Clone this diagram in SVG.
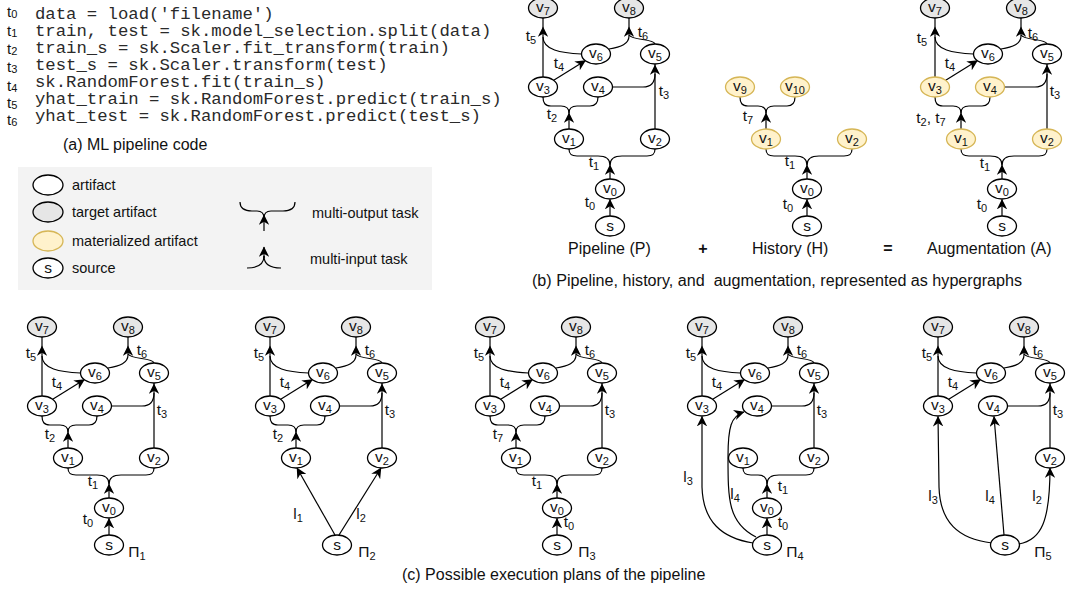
<svg xmlns="http://www.w3.org/2000/svg" width="1083" height="589" viewBox="0 0 1083 589">
<defs>
<marker id="ah" viewBox="0 0 10 10" refX="9.5" refY="5" markerWidth="10.5" markerHeight="10.5" markerUnits="userSpaceOnUse" orient="auto"><path d="M0,0 L10,5 L0,10 L3,5 Z" fill="#000"/></marker>
</defs>
<style>
text{font-family:"Liberation Sans",Arial,sans-serif;fill:#111}
.code{font-family:"Liberation Mono","Courier New",monospace;font-size:17.3px;fill:#2a2a2a}
.n{fill:#fff;stroke:#000;stroke-width:1.3}
.tg{fill:#e6e6e6;stroke:#000;stroke-width:1.3}
.mt{fill:#fff2cc;stroke:#d6b656;stroke-width:1.3}
.e{fill:none;stroke:#000;stroke-width:1.2}
.a{fill:none;stroke:#000;stroke-width:1.2;marker-end:url(#ah)}
.nl{font-size:15.5px;text-anchor:middle}
.el{font-size:15.5px;text-anchor:middle}
.sb{font-size:11px}
.cap{font-size:16px}
.lg{font-size:14.5px}
.cl{font-size:15px}
</style>

<!-- (a) code -->
<g id="code">
<text class="cl" x="7" y="17">t<tspan class="sb" dy="1">0</tspan></text>
<text class="cl" x="7" y="36">t<tspan class="sb" dy="1">1</tspan></text>
<text class="cl" x="7" y="54">t<tspan class="sb" dy="1">2</tspan></text>
<text class="cl" x="7" y="72">t<tspan class="sb" dy="1">3</tspan></text>
<text class="cl" x="7" y="91">t<tspan class="sb" dy="1">4</tspan></text>
<text class="cl" x="7" y="108">t<tspan class="sb" dy="1">5</tspan></text>
<text class="cl" x="7" y="125">t<tspan class="sb" dy="1">6</tspan></text>
<text class="code" x="35" y="19">data = load('filename')</text>
<text class="code" x="35" y="36">train, test = sk.model_selection.split(data)</text>
<text class="code" x="35" y="53">train_s = sk.Scaler.fit_transform(train)</text>
<text class="code" x="35" y="70">test_s = sk.Scaler.transform(test)</text>
<text class="code" x="35" y="87">sk.RandomForest.fit(train_s)</text>
<text class="code" x="35" y="104">yhat_train = sk.RandomForest.predict(train_s)</text>
<text class="code" x="35" y="121">yhat_test = sk.RandomForest.predict(test_s)</text>
<text class="cap" x="63" y="150">(a) ML pipeline code</text>
</g>

<!-- legend -->
<g id="legend">
<rect x="18" y="167" width="414" height="123" fill="#f3f3f3"/>
<g id="lg-artifact"><ellipse class="n" cx="48" cy="185" rx="15" ry="10"/><text class="lg" x="72" y="190">artifact</text></g>
<g id="lg-target"><ellipse class="tg" cx="48" cy="212" rx="15" ry="10"/><text class="lg" x="72" y="217">target artifact</text></g>
<g id="lg-mat"><ellipse class="mt" cx="48" cy="241" rx="15" ry="10"/><text class="lg" x="72" y="246">materialized artifact</text></g>
<g id="lg-source"><ellipse class="n" cx="48" cy="268" rx="15" ry="10"/><text class="nl" x="48" y="273">s</text><text class="lg" x="72" y="273">source</text></g>
<g id="lg-mo">
<path class="e" d="M240,202 C240,209 245,211 252,211 L257,211 C262,211 264,214 264,218"/>
<path class="e" d="M295,202 C295,209 290,211 283,211 L271,211 C266,211 264,214 264,218"/>
<path class="a" d="M264,231 L264,215"/>
<text class="lg" x="312" y="218">multi-output task</text>
</g>
<g id="lg-mi">
<path class="e" d="M247,268 C257,268 264,265 264,256"/>
<path class="e" d="M281,268 C271,268 264,265 264,256"/>
<path class="a" d="M264,258 L264,247"/>
<text class="lg" x="310" y="264">multi-input task</text>
</g>
</g>

<!-- (b) Pipeline P -->
<g id="P" transform="translate(543,8)">
<g id="P-edges">
<path class="a" d="M67,208 L67,191.5"/>
<path class="a" d="M67,171 L67,157"/>
<path class="e" d="M67,157 C67,150 62,148 55,148 L34,148 C28,148 26,146 26,141"/>
<path class="e" d="M67,157 C67,150 72,148 79,148 L104,148 C110,148 112,146 112,141"/>
<path class="a" d="M26,121 L26,105"/>
<path class="e" d="M26,105 C26,100 23,98 18,98 L8,98 C2,98 0,95 0,89"/>
<path class="e" d="M26,105 C26,100 29,98 34,98 L47,98 C53,98 55,95 55,89"/>
<path class="a" d="M112,121 L112,57"/>
<path class="e" d="M112,57 L112,56"/>
<path class="e" d="M69.5,79 L100,79 C108,79 112,75 112,66"/>
<path class="a" d="M10.3,72.6 L42.5,52.6"/>
<path class="a" d="M0,69 L0,19"/>
<path class="e" d="M0,19 L0,10"/>
<path class="e" d="M38.5,46 C18,45 0,42 0,29"/>
<path class="a" d="M86,28 L86,19"/>
<path class="e" d="M86,19 L86,10"/>
<path class="e" d="M66,41 C78,39 86,36 86,28"/>
<path class="e" d="M112,36 C110,30 90,33 86,27"/>
<text class="el" x="-12" y="33">t<tspan class="sb" dy="3">5</tspan></text>
<text class="el" x="100" y="29">t<tspan class="sb" dy="3">6</tspan></text>
<text class="el" x="16" y="60">t<tspan class="sb" dy="3">4</tspan></text>
<text class="el" x="121" y="88">t<tspan class="sb" dy="3">3</tspan></text>
<text class="el" x="9" y="111">t<tspan class="sb" dy="3">2</tspan></text>
<text class="el" x="51" y="159">t<tspan class="sb" dy="3">1</tspan></text>
<text class="el" x="47" y="199">t<tspan class="sb" dy="3">0</tspan></text>
</g>
<g id="P-v7"><ellipse class="tg" cx="0" cy="0" rx="14.5" ry="10"/><text class="nl" x="0" y="4">v<tspan class="sb" dy="3">7</tspan></text></g>
<g id="P-v8"><ellipse class="tg" cx="86" cy="0" rx="14.5" ry="10"/><text class="nl" x="86" y="4">v<tspan class="sb" dy="3">8</tspan></text></g>
<g id="P-v6"><ellipse class="n" cx="53" cy="46" rx="14.5" ry="10"/><text class="nl" x="53" y="50">v<tspan class="sb" dy="3">6</tspan></text></g>
<g id="P-v5"><ellipse class="n" cx="112" cy="46" rx="14.5" ry="10"/><text class="nl" x="112" y="50">v<tspan class="sb" dy="3">5</tspan></text></g>
<g id="P-v3"><ellipse class="n" cx="0" cy="79" rx="14.5" ry="10"/><text class="nl" x="0" y="83">v<tspan class="sb" dy="3">3</tspan></text></g>
<g id="P-v4"><ellipse class="n" cx="55" cy="79" rx="14.5" ry="10"/><text class="nl" x="55" y="83">v<tspan class="sb" dy="3">4</tspan></text></g>
<g id="P-v1"><ellipse class="n" cx="26" cy="131" rx="14.5" ry="10"/><text class="nl" x="26" y="135">v<tspan class="sb" dy="3">1</tspan></text></g>
<g id="P-v2"><ellipse class="n" cx="112" cy="131" rx="14.5" ry="10"/><text class="nl" x="112" y="135">v<tspan class="sb" dy="3">2</tspan></text></g>
<g id="P-v0"><ellipse class="n" cx="67" cy="181" rx="14.5" ry="10"/><text class="nl" x="67" y="185">v<tspan class="sb" dy="3">0</tspan></text></g>
<g id="P-s"><ellipse class="n" cx="67" cy="218" rx="14.5" ry="10"/><text class="nl" x="67" y="223">s</text></g>
</g>

<!-- History H -->
<g id="H" transform="translate(740,8)">
<g id="H-edges">
<path class="a" d="M67,208 L67,191.5"/>
<path class="a" d="M67,171 L67,157"/>
<path class="e" d="M67,157 C67,150 62,148 55,148 L34,148 C28,148 26,146 26,141"/>
<path class="e" d="M67,157 C67,150 72,148 79,148 L104,148 C110,148 112,146 112,141"/>
<path class="a" d="M26,121 L26,105"/>
<path class="e" d="M26,105 C26,100 23,98 18,98 L8,98 C2,98 0,95 0,89"/>
<path class="e" d="M26,105 C26,100 29,98 34,98 L47,98 C53,98 55,95 55,89"/>
<text class="el" x="8" y="113">t<tspan class="sb" dy="3">7</tspan></text>
<text class="el" x="50" y="158">t<tspan class="sb" dy="3">1</tspan></text>
<text class="el" x="48" y="201">t<tspan class="sb" dy="3">0</tspan></text>
</g>
<g id="H-v9"><ellipse class="mt" cx="0" cy="79" rx="14.5" ry="10"/><text class="nl" x="0" y="83">v<tspan class="sb" dy="3">9</tspan></text></g>
<g id="H-v10"><ellipse class="mt" cx="55" cy="79" rx="14.5" ry="10"/><text class="nl" x="55" y="83">v<tspan class="sb" dy="3">10</tspan></text></g>
<g id="H-v1"><ellipse class="mt" cx="26" cy="131" rx="14.5" ry="10"/><text class="nl" x="26" y="135">v<tspan class="sb" dy="3">1</tspan></text></g>
<g id="H-v2"><ellipse class="mt" cx="112" cy="131" rx="14.5" ry="10"/><text class="nl" x="112" y="135">v<tspan class="sb" dy="3">2</tspan></text></g>
<g id="H-v0"><ellipse class="n" cx="67" cy="181" rx="14.5" ry="10"/><text class="nl" x="67" y="185">v<tspan class="sb" dy="3">0</tspan></text></g>
<g id="H-s"><ellipse class="n" cx="67" cy="218" rx="14.5" ry="10"/><text class="nl" x="67" y="223">s</text></g>
</g>

<!-- Augmentation A -->
<g id="A" transform="translate(935,8)">
<g id="A-edges">
<path class="a" d="M67,208 L67,191.5"/>
<path class="a" d="M67,171 L67,157"/>
<path class="e" d="M67,157 C67,150 62,148 55,148 L34,148 C28,148 26,146 26,141"/>
<path class="e" d="M67,157 C67,150 72,148 79,148 L104,148 C110,148 112,146 112,141"/>
<path class="a" d="M26,121 L26,105"/>
<path class="e" d="M26,105 C26,100 23,98 18,98 L8,98 C2,98 0,95 0,89"/>
<path class="e" d="M26,105 C26,100 29,98 34,98 L47,98 C53,98 55,95 55,89"/>
<path class="a" d="M112,121 L112,57"/>
<path class="e" d="M112,57 L112,56"/>
<path class="e" d="M69.5,79 L100,79 C108,79 112,75 112,66"/>
<path class="a" d="M10.3,72.6 L42.5,52.6"/>
<path class="a" d="M0,69 L0,19"/>
<path class="e" d="M0,19 L0,10"/>
<path class="e" d="M38.5,46 C18,45 0,42 0,29"/>
<path class="a" d="M86,28 L86,19"/>
<path class="e" d="M86,19 L86,10"/>
<path class="e" d="M66,41 C78,39 86,36 86,28"/>
<path class="e" d="M112,36 C110,30 90,33 86,27"/>
<text class="el" x="-13" y="35">t<tspan class="sb" dy="3">5</tspan></text>
<text class="el" x="98" y="30">t<tspan class="sb" dy="3">6</tspan></text>
<text class="el" x="15" y="60">t<tspan class="sb" dy="3">4</tspan></text>
<text class="el" x="120" y="88">t<tspan class="sb" dy="3">3</tspan></text>
<text class="el" x="-4" y="115">t<tspan class="sb" dy="3">2</tspan><tspan dy="-3">, t</tspan><tspan class="sb" dy="3">7</tspan></text>
<text class="el" x="50" y="160">t<tspan class="sb" dy="3">1</tspan></text>
<text class="el" x="47" y="201">t<tspan class="sb" dy="3">0</tspan></text>
</g>
<g id="A-v7"><ellipse class="tg" cx="0" cy="0" rx="14.5" ry="10"/><text class="nl" x="0" y="4">v<tspan class="sb" dy="3">7</tspan></text></g>
<g id="A-v8"><ellipse class="tg" cx="86" cy="0" rx="14.5" ry="10"/><text class="nl" x="86" y="4">v<tspan class="sb" dy="3">8</tspan></text></g>
<g id="A-v6"><ellipse class="n" cx="53" cy="46" rx="14.5" ry="10"/><text class="nl" x="53" y="50">v<tspan class="sb" dy="3">6</tspan></text></g>
<g id="A-v5"><ellipse class="n" cx="112" cy="46" rx="14.5" ry="10"/><text class="nl" x="112" y="50">v<tspan class="sb" dy="3">5</tspan></text></g>
<g id="A-v3"><ellipse class="mt" cx="0" cy="79" rx="14.5" ry="10"/><text class="nl" x="0" y="83">v<tspan class="sb" dy="3">3</tspan></text></g>
<g id="A-v4"><ellipse class="mt" cx="55" cy="79" rx="14.5" ry="10"/><text class="nl" x="55" y="83">v<tspan class="sb" dy="3">4</tspan></text></g>
<g id="A-v1"><ellipse class="mt" cx="26" cy="131" rx="14.5" ry="10"/><text class="nl" x="26" y="135">v<tspan class="sb" dy="3">1</tspan></text></g>
<g id="A-v2"><ellipse class="mt" cx="112" cy="131" rx="14.5" ry="10"/><text class="nl" x="112" y="135">v<tspan class="sb" dy="3">2</tspan></text></g>
<g id="A-v0"><ellipse class="n" cx="67" cy="181" rx="14.5" ry="10"/><text class="nl" x="67" y="185">v<tspan class="sb" dy="3">0</tspan></text></g>
<g id="A-s"><ellipse class="n" cx="67" cy="218" rx="14.5" ry="10"/><text class="nl" x="67" y="223">s</text></g>
</g>

<g id="b-labels">
<text class="cap" x="568" y="254">Pipeline (P)</text>
<text class="cap" x="703" y="254" text-anchor="middle" font-weight="bold">+</text>
<text class="cap" x="752" y="254">History (H)</text>
<text class="cap" x="888" y="254" text-anchor="middle" font-weight="bold">=</text>
<text class="cap" x="927" y="254">Augmentation (A)</text>
<text class="cap" x="532" y="286" textLength="490" lengthAdjust="spacingAndGlyphs" xml:space="preserve">(b) Pipeline, history, and  augmentation, represented as hypergraphs</text>
</g>

<!-- Plan 1 -->
<g id="plan1" transform="translate(42,327)">
<g id="p1-edges">
<path class="a" d="M67,208 L67,191.5"/>
<path class="a" d="M67,171 L67,157"/>
<path class="e" d="M67,157 C67,150 62,148 55,148 L34,148 C28,148 26,146 26,141"/>
<path class="e" d="M67,157 C67,150 72,148 79,148 L104,148 C110,148 112,146 112,141"/>
<path class="a" d="M26,121 L26,105"/>
<path class="e" d="M26,105 C26,100 23,98 18,98 L8,98 C2,98 0,95 0,89"/>
<path class="e" d="M26,105 C26,100 29,98 34,98 L47,98 C53,98 55,95 55,89"/>
<path class="a" d="M112,121 L112,57"/>
<path class="e" d="M112,57 L112,56"/>
<path class="e" d="M69.5,79 L100,79 C108,79 112,75 112,66"/>
<path class="a" d="M10.3,72.6 L42.5,52.6"/>
<path class="a" d="M0,69 L0,19"/>
<path class="e" d="M0,19 L0,10"/>
<path class="e" d="M38.5,46 C18,45 0,42 0,29"/>
<path class="a" d="M86,28 L86,19"/>
<path class="e" d="M86,19 L86,10"/>
<path class="e" d="M66,41 C78,39 86,36 86,28"/>
<path class="e" d="M112,36 C110,30 90,33 86,27"/>
<text class="el" x="-11" y="31">t<tspan class="sb" dy="3">5</tspan></text>
<text class="el" x="100" y="28">t<tspan class="sb" dy="3">6</tspan></text>
<text class="el" x="15" y="60">t<tspan class="sb" dy="3">4</tspan></text>
<text class="el" x="120" y="88">t<tspan class="sb" dy="3">3</tspan></text>
<text class="el" x="8" y="112">t<tspan class="sb" dy="3">2</tspan></text>
<text class="el" x="51" y="159">t<tspan class="sb" dy="3">1</tspan></text>
<text class="el" x="46" y="197">t<tspan class="sb" dy="3">0</tspan></text>
</g>
<g id="p1-v7"><ellipse class="tg" cx="0" cy="0" rx="14.5" ry="10"/><text class="nl" x="0" y="4">v<tspan class="sb" dy="3">7</tspan></text></g>
<g id="p1-v8"><ellipse class="tg" cx="86" cy="0" rx="14.5" ry="10"/><text class="nl" x="86" y="4">v<tspan class="sb" dy="3">8</tspan></text></g>
<g id="p1-v6"><ellipse class="n" cx="53" cy="46" rx="14.5" ry="10"/><text class="nl" x="53" y="50">v<tspan class="sb" dy="3">6</tspan></text></g>
<g id="p1-v5"><ellipse class="n" cx="112" cy="46" rx="14.5" ry="10"/><text class="nl" x="112" y="50">v<tspan class="sb" dy="3">5</tspan></text></g>
<g id="p1-v3"><ellipse class="n" cx="0" cy="79" rx="14.5" ry="10"/><text class="nl" x="0" y="83">v<tspan class="sb" dy="3">3</tspan></text></g>
<g id="p1-v4"><ellipse class="n" cx="55" cy="79" rx="14.5" ry="10"/><text class="nl" x="55" y="83">v<tspan class="sb" dy="3">4</tspan></text></g>
<g id="p1-v1"><ellipse class="n" cx="26" cy="131" rx="14.5" ry="10"/><text class="nl" x="26" y="135">v<tspan class="sb" dy="3">1</tspan></text></g>
<g id="p1-v2"><ellipse class="n" cx="112" cy="131" rx="14.5" ry="10"/><text class="nl" x="112" y="135">v<tspan class="sb" dy="3">2</tspan></text></g>
<g id="p1-v0"><ellipse class="n" cx="67" cy="181" rx="14.5" ry="10"/><text class="nl" x="67" y="185">v<tspan class="sb" dy="3">0</tspan></text></g>
<g id="p1-s"><ellipse class="n" cx="67" cy="218" rx="14.5" ry="10"/><text class="nl" x="67" y="223">s</text></g>
<text class="el" x="95" y="230">Π<tspan class="sb" dy="3">1</tspan></text>
</g>

<!-- Plan 2 -->
<g id="plan2" transform="translate(270,327)">
<g id="p2-edges">
<path class="a" d="M65,208 L27,141"/>
<path class="a" d="M69,208 L111,141"/>
<path class="a" d="M26,121 L26,105"/>
<path class="e" d="M26,105 C26,100 23,98 18,98 L8,98 C2,98 0,95 0,89"/>
<path class="e" d="M26,105 C26,100 29,98 34,98 L47,98 C53,98 55,95 55,89"/>
<path class="a" d="M112,121 L112,57"/>
<path class="e" d="M112,57 L112,56"/>
<path class="e" d="M69.5,79 L100,79 C108,79 112,75 112,66"/>
<path class="a" d="M10.3,72.6 L42.5,52.6"/>
<path class="a" d="M0,69 L0,19"/>
<path class="e" d="M0,19 L0,10"/>
<path class="e" d="M38.5,46 C18,45 0,42 0,29"/>
<path class="a" d="M86,28 L86,19"/>
<path class="e" d="M86,19 L86,10"/>
<path class="e" d="M66,41 C78,39 86,36 86,28"/>
<path class="e" d="M112,36 C110,30 90,33 86,27"/>
<text class="el" x="-11" y="31">t<tspan class="sb" dy="3">5</tspan></text>
<text class="el" x="100" y="28">t<tspan class="sb" dy="3">6</tspan></text>
<text class="el" x="15" y="60">t<tspan class="sb" dy="3">4</tspan></text>
<text class="el" x="120" y="88">t<tspan class="sb" dy="3">3</tspan></text>
<text class="el" x="8" y="112">t<tspan class="sb" dy="3">2</tspan></text>
<text class="el" x="28" y="192">l<tspan class="sb" dy="3">1</tspan></text>
<text class="el" x="91" y="192">l<tspan class="sb" dy="3">2</tspan></text>
</g>
<g id="p2-v7"><ellipse class="tg" cx="0" cy="0" rx="14.5" ry="10"/><text class="nl" x="0" y="4">v<tspan class="sb" dy="3">7</tspan></text></g>
<g id="p2-v8"><ellipse class="tg" cx="86" cy="0" rx="14.5" ry="10"/><text class="nl" x="86" y="4">v<tspan class="sb" dy="3">8</tspan></text></g>
<g id="p2-v6"><ellipse class="n" cx="53" cy="46" rx="14.5" ry="10"/><text class="nl" x="53" y="50">v<tspan class="sb" dy="3">6</tspan></text></g>
<g id="p2-v5"><ellipse class="n" cx="112" cy="46" rx="14.5" ry="10"/><text class="nl" x="112" y="50">v<tspan class="sb" dy="3">5</tspan></text></g>
<g id="p2-v3"><ellipse class="n" cx="0" cy="79" rx="14.5" ry="10"/><text class="nl" x="0" y="83">v<tspan class="sb" dy="3">3</tspan></text></g>
<g id="p2-v4"><ellipse class="n" cx="55" cy="79" rx="14.5" ry="10"/><text class="nl" x="55" y="83">v<tspan class="sb" dy="3">4</tspan></text></g>
<g id="p2-v1"><ellipse class="n" cx="26" cy="131" rx="14.5" ry="10"/><text class="nl" x="26" y="135">v<tspan class="sb" dy="3">1</tspan></text></g>
<g id="p2-v2"><ellipse class="n" cx="112" cy="131" rx="14.5" ry="10"/><text class="nl" x="112" y="135">v<tspan class="sb" dy="3">2</tspan></text></g>
<g id="p2-s"><ellipse class="n" cx="67" cy="218" rx="14.5" ry="10"/><text class="nl" x="67" y="223">s</text></g>
<text class="el" x="97" y="230">Π<tspan class="sb" dy="3">2</tspan></text>
</g>

<!-- Plan 3 -->
<g id="plan3" transform="translate(490,327)">
<g id="p3-edges">
<path class="a" d="M67,208 L67,191.5"/>
<path class="a" d="M67,171 L67,157"/>
<path class="e" d="M67,157 C67,150 62,148 55,148 L34,148 C28,148 26,146 26,141"/>
<path class="e" d="M67,157 C67,150 72,148 79,148 L104,148 C110,148 112,146 112,141"/>
<path class="a" d="M26,121 L26,105"/>
<path class="e" d="M26,105 C26,100 23,98 18,98 L8,98 C2,98 0,95 0,89"/>
<path class="e" d="M26,105 C26,100 29,98 34,98 L47,98 C53,98 55,95 55,89"/>
<path class="a" d="M112,121 L112,57"/>
<path class="e" d="M112,57 L112,56"/>
<path class="e" d="M69.5,79 L100,79 C108,79 112,75 112,66"/>
<path class="a" d="M10.3,72.6 L42.5,52.6"/>
<path class="a" d="M0,69 L0,19"/>
<path class="e" d="M0,19 L0,10"/>
<path class="e" d="M38.5,46 C18,45 0,42 0,29"/>
<path class="a" d="M86,28 L86,19"/>
<path class="e" d="M86,19 L86,10"/>
<path class="e" d="M66,41 C78,39 86,36 86,28"/>
<path class="e" d="M112,36 C110,30 90,33 86,27"/>
<text class="el" x="-11" y="31">t<tspan class="sb" dy="3">5</tspan></text>
<text class="el" x="100" y="28">t<tspan class="sb" dy="3">6</tspan></text>
<text class="el" x="15" y="60">t<tspan class="sb" dy="3">4</tspan></text>
<text class="el" x="120" y="88">t<tspan class="sb" dy="3">3</tspan></text>
<text class="el" x="8" y="112">t<tspan class="sb" dy="3">7</tspan></text>
<text class="el" x="47" y="159">t<tspan class="sb" dy="3">1</tspan></text>
<text class="el" x="79" y="200">t<tspan class="sb" dy="3">0</tspan></text>
</g>
<g id="p3-v7"><ellipse class="tg" cx="0" cy="0" rx="14.5" ry="10"/><text class="nl" x="0" y="4">v<tspan class="sb" dy="3">7</tspan></text></g>
<g id="p3-v8"><ellipse class="tg" cx="86" cy="0" rx="14.5" ry="10"/><text class="nl" x="86" y="4">v<tspan class="sb" dy="3">8</tspan></text></g>
<g id="p3-v6"><ellipse class="n" cx="53" cy="46" rx="14.5" ry="10"/><text class="nl" x="53" y="50">v<tspan class="sb" dy="3">6</tspan></text></g>
<g id="p3-v5"><ellipse class="n" cx="112" cy="46" rx="14.5" ry="10"/><text class="nl" x="112" y="50">v<tspan class="sb" dy="3">5</tspan></text></g>
<g id="p3-v3"><ellipse class="n" cx="0" cy="79" rx="14.5" ry="10"/><text class="nl" x="0" y="83">v<tspan class="sb" dy="3">3</tspan></text></g>
<g id="p3-v4"><ellipse class="n" cx="55" cy="79" rx="14.5" ry="10"/><text class="nl" x="55" y="83">v<tspan class="sb" dy="3">4</tspan></text></g>
<g id="p3-v1"><ellipse class="n" cx="26" cy="131" rx="14.5" ry="10"/><text class="nl" x="26" y="135">v<tspan class="sb" dy="3">1</tspan></text></g>
<g id="p3-v2"><ellipse class="n" cx="112" cy="131" rx="14.5" ry="10"/><text class="nl" x="112" y="135">v<tspan class="sb" dy="3">2</tspan></text></g>
<g id="p3-v0"><ellipse class="n" cx="67" cy="181" rx="14.5" ry="10"/><text class="nl" x="67" y="185">v<tspan class="sb" dy="3">0</tspan></text></g>
<g id="p3-s"><ellipse class="n" cx="67" cy="218" rx="14.5" ry="10"/><text class="nl" x="67" y="223">s</text></g>
<text class="el" x="97" y="230">Π<tspan class="sb" dy="3">3</tspan></text>
</g>

<!-- Plan 4 -->
<g id="plan4" transform="translate(702,327)">
<g id="p4-edges">
<path class="a" d="M65,208 L65,191.5"/>
<path class="a" d="M65,171 L65,157"/>
<path class="e" d="M65,157 C65,150 61,148 56,148 L49,148 C43,148 41,146 41,141"/>
<path class="e" d="M65,157 C65,150 70,148 77,148 L104,148 C110,148 112,146 112,141"/>
<path class="a" d="M112,121 L112,57"/>
<path class="e" d="M112,57 L112,56"/>
<path class="e" d="M69.5,79 L100,79 C108,79 112,75 112,66"/>
<path class="a" d="M10.3,72.6 L42.5,52.6"/>
<path class="a" d="M0,69 L0,19"/>
<path class="e" d="M0,19 L0,10"/>
<path class="e" d="M38.5,46 C18,45 0,42 0,29"/>
<path class="a" d="M86,28 L86,19"/>
<path class="e" d="M86,19 L86,10"/>
<path class="e" d="M66,41 C78,39 86,36 86,28"/>
<path class="e" d="M112,36 C110,30 90,33 86,27"/>
<path class="a" d="M51,216 C20,211 1,195 0,160 L0,89.5"/>
<path class="a" d="M54,210 C26,196 26,172 26,130 C26,100 29,89 42,85"/>
<text class="el" x="-11" y="31">t<tspan class="sb" dy="3">5</tspan></text>
<text class="el" x="100" y="28">t<tspan class="sb" dy="3">6</tspan></text>
<text class="el" x="15" y="60">t<tspan class="sb" dy="3">4</tspan></text>
<text class="el" x="120" y="88">t<tspan class="sb" dy="3">3</tspan></text>
<text class="el" x="81" y="164">t<tspan class="sb" dy="3">1</tspan></text>
<text class="el" x="81" y="200">t<tspan class="sb" dy="3">0</tspan></text>
<text class="el" x="-14" y="155">l<tspan class="sb" dy="3">3</tspan></text>
<text class="el" x="33" y="172">l<tspan class="sb" dy="3">4</tspan></text>
</g>
<g id="p4-v7"><ellipse class="tg" cx="0" cy="0" rx="14.5" ry="10"/><text class="nl" x="0" y="4">v<tspan class="sb" dy="3">7</tspan></text></g>
<g id="p4-v8"><ellipse class="tg" cx="86" cy="0" rx="14.5" ry="10"/><text class="nl" x="86" y="4">v<tspan class="sb" dy="3">8</tspan></text></g>
<g id="p4-v6"><ellipse class="n" cx="53" cy="46" rx="14.5" ry="10"/><text class="nl" x="53" y="50">v<tspan class="sb" dy="3">6</tspan></text></g>
<g id="p4-v5"><ellipse class="n" cx="112" cy="46" rx="14.5" ry="10"/><text class="nl" x="112" y="50">v<tspan class="sb" dy="3">5</tspan></text></g>
<g id="p4-v3"><ellipse class="n" cx="0" cy="79" rx="14.5" ry="10"/><text class="nl" x="0" y="83">v<tspan class="sb" dy="3">3</tspan></text></g>
<g id="p4-v4"><ellipse class="n" cx="55" cy="79" rx="14.5" ry="10"/><text class="nl" x="55" y="83">v<tspan class="sb" dy="3">4</tspan></text></g>
<g id="p4-v1"><ellipse class="n" cx="41" cy="131" rx="14.5" ry="10"/><text class="nl" x="41" y="135">v<tspan class="sb" dy="3">1</tspan></text></g>
<g id="p4-v2"><ellipse class="n" cx="112" cy="131" rx="14.5" ry="10"/><text class="nl" x="112" y="135">v<tspan class="sb" dy="3">2</tspan></text></g>
<g id="p4-v0"><ellipse class="n" cx="65" cy="181" rx="14.5" ry="10"/><text class="nl" x="65" y="185">v<tspan class="sb" dy="3">0</tspan></text></g>
<g id="p4-s"><ellipse class="n" cx="65" cy="218" rx="14.5" ry="10"/><text class="nl" x="65" y="223">s</text></g>
<text class="el" x="93" y="230">Π<tspan class="sb" dy="3">4</tspan></text>
</g>

<!-- Plan 5 -->
<g id="plan5" transform="translate(938,327)">
<g id="p5-edges">
<path class="a" d="M112,121 L112,57"/>
<path class="e" d="M112,57 L112,56"/>
<path class="e" d="M69.5,79 L100,79 C108,79 112,75 112,66"/>
<path class="a" d="M10.3,72.6 L42.5,52.6"/>
<path class="a" d="M0,69 L0,19"/>
<path class="e" d="M0,19 L0,10"/>
<path class="e" d="M38.5,46 C18,45 0,42 0,29"/>
<path class="a" d="M86,28 L86,19"/>
<path class="e" d="M86,19 L86,10"/>
<path class="e" d="M66,41 C78,39 86,36 86,28"/>
<path class="e" d="M112,36 C110,30 90,33 86,27"/>
<path class="a" d="M54,216 C20,212 2,195 1,160 L0,89.5"/>
<path class="a" d="M66,208 L56,89.5"/>
<path class="a" d="M81,217 C103,213 112,195 112,141"/>
<text class="el" x="-11" y="31">t<tspan class="sb" dy="3">5</tspan></text>
<text class="el" x="100" y="28">t<tspan class="sb" dy="3">6</tspan></text>
<text class="el" x="15" y="60">t<tspan class="sb" dy="3">4</tspan></text>
<text class="el" x="120" y="88">t<tspan class="sb" dy="3">3</tspan></text>
<text class="el" x="-5" y="174">l<tspan class="sb" dy="3">3</tspan></text>
<text class="el" x="52" y="174">l<tspan class="sb" dy="3">4</tspan></text>
<text class="el" x="99" y="174">l<tspan class="sb" dy="3">2</tspan></text>
</g>
<g id="p5-v7"><ellipse class="tg" cx="0" cy="0" rx="14.5" ry="10"/><text class="nl" x="0" y="4">v<tspan class="sb" dy="3">7</tspan></text></g>
<g id="p5-v8"><ellipse class="tg" cx="86" cy="0" rx="14.5" ry="10"/><text class="nl" x="86" y="4">v<tspan class="sb" dy="3">8</tspan></text></g>
<g id="p5-v6"><ellipse class="n" cx="53" cy="46" rx="14.5" ry="10"/><text class="nl" x="53" y="50">v<tspan class="sb" dy="3">6</tspan></text></g>
<g id="p5-v5"><ellipse class="n" cx="112" cy="46" rx="14.5" ry="10"/><text class="nl" x="112" y="50">v<tspan class="sb" dy="3">5</tspan></text></g>
<g id="p5-v3"><ellipse class="n" cx="0" cy="79" rx="14.5" ry="10"/><text class="nl" x="0" y="83">v<tspan class="sb" dy="3">3</tspan></text></g>
<g id="p5-v4"><ellipse class="n" cx="55" cy="79" rx="14.5" ry="10"/><text class="nl" x="55" y="83">v<tspan class="sb" dy="3">4</tspan></text></g>
<g id="p5-v2"><ellipse class="n" cx="112" cy="131" rx="14.5" ry="10"/><text class="nl" x="112" y="135">v<tspan class="sb" dy="3">2</tspan></text></g>
<g id="p5-s"><ellipse class="n" cx="67" cy="218" rx="14.5" ry="10"/><text class="nl" x="67" y="223">s</text></g>
<text class="el" x="105" y="230">Π<tspan class="sb" dy="3">5</tspan></text>
</g>

<text class="cap" x="402" y="580">(c) Possible execution plans of the pipeline</text>
</svg>
